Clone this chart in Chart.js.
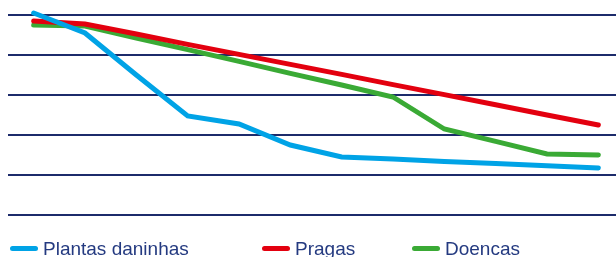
<!DOCTYPE html>
<html>
<head>
<meta charset="utf-8">
<script src="https://cdn.jsdelivr.net/npm/chart.js@4/dist/chart.umd.min.js"></script>
<style>
    html, body { margin: 0; padding: 0; background: #fff; overflow: hidden; }
    #wrap { position: relative; width: 616px; height: 257px; overflow: hidden; }
    #chart { position: absolute; left: 0; top: 0; }
    .lg-item { position: absolute; top: 237px; height: 24px; line-height: 24px; font-family: "Liberation Sans", Arial, sans-serif; font-size: 19px; color: #243a80; white-space: nowrap; }
    .lg-line { display: inline-block; width: 28px; height: 5px; border-radius: 3px; vertical-align: middle; margin-right: 5px; position: relative; top: -1px; }
</style>
</head>
<body>
<div id="wrap">
    <canvas id="chart" width="624" height="257"></canvas>
    <div id="legend"></div>
</div>
<script>
/*** 資料 ***/
const categories = ['1', '2', '3', '4', '5', '6', '7', '8', '9', '10', '11', '12'];
const plantasDaninhas = [101, 91, 70, 49.5, 45.5, 35, 29, 28, 26.8, 25.7, 24.6, 23.5];
const pragas = [97, 95.5, 90.5, 85.3, 80.3, 75.3, 70.3, 65.2, 60.2, 55.1, 50, 45];
const doencas = [95, 94.5, 88.5, 82.7, 76.8, 70.8, 65, 59, 43, 36.8, 30.5, 30];
const seriesNames = ['Plantas daninhas', 'Pragas', 'Doencas'];
const seriesColors = ['#00a3e6', '#e3000f', '#3aaa35'];
const legendLeft = [10, 262, 412];

/*** 圖表 ***/
const ctx = document.getElementById('chart').getContext('2d');
const lineSet = (i, data) => ({
    label: seriesNames[i],
    data: data,
    borderColor: seriesColors[i],
    backgroundColor: seriesColors[i],
    borderWidth: 5,
    borderCapStyle: 'round',
    pointRadius: 0,
    tension: 0,
    clip: 10
});

const myChart = new Chart(ctx, {
    type: 'line',
    data: {
        labels: categories,
        datasets: [
            lineSet(0, plantasDaninhas),
            lineSet(1, pragas),
            lineSet(2, doencas)
        ]
    },
    options: {
        responsive: false,
        animation: false,
        devicePixelRatio: 1,
        layout: {
            padding: { left: 8, top: 15, right: 0, bottom: 34 }
        },
        plugins: {
            legend: { display: false },
            tooltip: { enabled: false }
        },
        scales: {
            x: {
                offset: true,
                grid: { display: false },
                border: { display: false },
                ticks: { display: false }
            },
            y: {
                min: 0,
                max: 100,
                ticks: { display: false, stepSize: 20 },
                grid: { color: '#1c2b6b', lineWidth: 2, drawTicks: false },
                border: { display: false }
            }
        }
    }
});

/*** 圖例 ***/
const legend = document.getElementById('legend');
myChart.data.datasets.forEach((ds, i) => {
    const item = document.createElement('div');
    item.className = 'lg-item';
    item.style.left = legendLeft[i] + 'px';
    const sw = document.createElement('span');
    sw.className = 'lg-line';
    sw.style.background = ds.borderColor;
    item.appendChild(sw);
    item.appendChild(document.createTextNode(ds.label));
    legend.appendChild(item);
});
</script>
</body>
</html>
